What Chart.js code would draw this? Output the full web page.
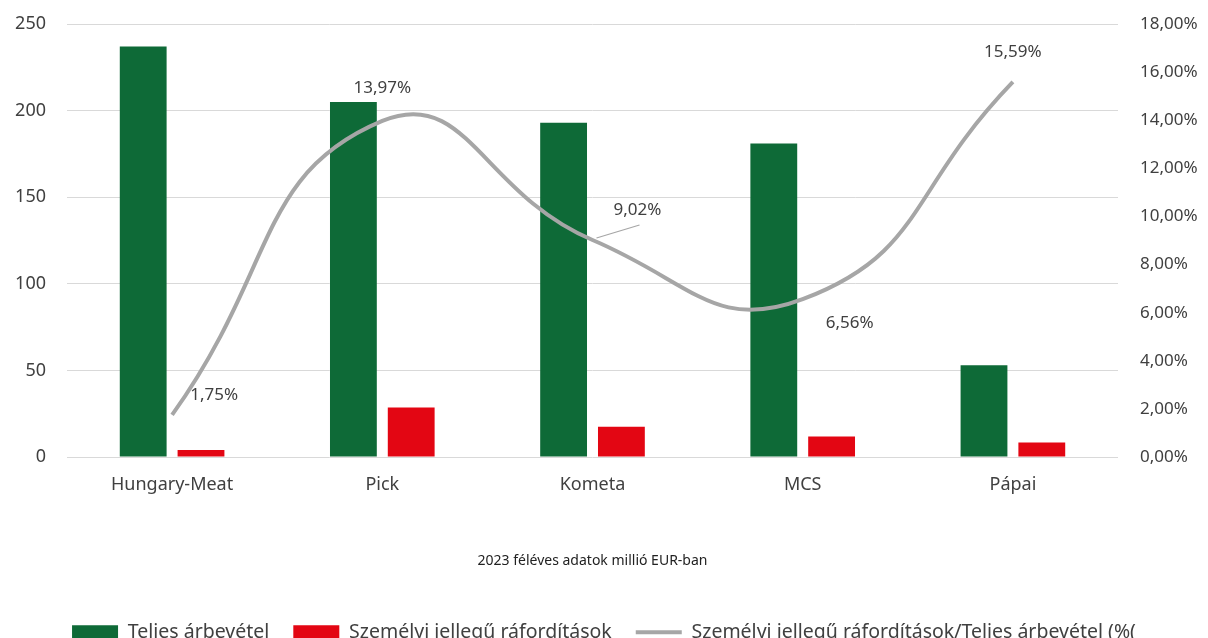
<!DOCTYPE html>
<html lang="hu">
<head>
<meta charset="utf-8">
<script src="https://cdn.jsdelivr.net/npm/chart.js@4.4.1/dist/chart.umd.min.js"></script>
<style>
  html, body { margin: 0; padding: 0; background: #fff; overflow: hidden; width: 1208px; height: 638px; }
  #wrap { position: relative; width: 1208px; height: 652px; }
</style>
</head>
<body>
<div id="wrap"><canvas id="chart"></canvas></div>
<script>
"use strict";
const companies = ["Hungary-Meat", "Pick", "Kometa", "MCS", "Pápai"];
const revenue = [237, 205, 193, 181, 53];
const staffCosts = [4.1, 28.6, 17.4, 11.9, 8.3];
const staffShare = [0.0175, 0.1397, 0.0902, 0.0656, 0.1559];
const shareLabels = ["1,75%", "13,97%", "9,02%", "6,56%", "15,59%"];

const GREEN = "#0e6a37";
const RED = "#e30613";
const GREY = "#a6a6a6";
const TEXT = "#404040";
const FONT = "'Noto Sans', 'DejaVu Sans', sans-serif";

// where each % label sits, relative to its point
const labelOffsets = [[42, -20], [0, -33], [45, -30], [47, 24], [0, -30]];

const shareLabelPlugin = {
  id: "shareLabels",
  afterDatasetsDraw(chart) {
    const meta = chart.getDatasetMeta(2);
    const ctx = chart.ctx;
    ctx.save();
    ctx.font = "17px " + FONT;
    ctx.fillStyle = TEXT;
    ctx.textAlign = "center";
    ctx.textBaseline = "middle";
    meta.data.forEach((pt, i) => {
      const lx = pt.x + labelOffsets[i][0];
      const ly = pt.y + labelOffsets[i][1];
      if (i === 2) {
        ctx.strokeStyle = GREY;
        ctx.lineWidth = 1.2;
        ctx.beginPath();
        ctx.moveTo(pt.x + 4, pt.y - 2);
        ctx.lineTo(lx + 2, ly + 15);
        ctx.stroke();
      }
      ctx.fillText(shareLabels[i], lx, ly);
    });
    ctx.restore();
  },
};

Chart.defaults.font.family = FONT;
Chart.defaults.color = TEXT;

const chartCxt = document.querySelector("#chart").getContext("2d");
new Chart(chartCxt, {
  type: "bar",
  data: {
    labels: companies,
    datasets: [
      {
        label: "Teljes árbevétel",
        data: revenue,
        backgroundColor: GREEN,
        yAxisID: "y",
        order: 2,
        categoryPercentage: 0.55,
        barPercentage: 0.81,
      },
      {
        label: "Személyi jellegű ráfordítások",
        data: staffCosts,
        backgroundColor: RED,
        yAxisID: "y",
        order: 2,
        categoryPercentage: 0.55,
        barPercentage: 0.81,
      },
      {
        type: "line",
        label: "Személyi jellegű ráfordítások/Teljes árbevétel (%(",
        data: staffShare,
        borderColor: GREY,
        backgroundColor: GREY,
        borderWidth: 4,
        tension: 0.5,
        pointRadius: 0,
        yAxisID: "y1",
        order: 1,
      },
    ],
  },
  options: {
    responsive: true,
    maintainAspectRatio: false,
    animation: false,
    layout: { padding: { top: 24, left: 0, right: 0, bottom: 0 } },
    plugins: {
      tooltip: { enabled: false },
      legend: {
        position: "bottom",
        labels: {
          usePointStyle: true,
          pointStyleWidth: 46,
          boxHeight: 14,
          padding: 24,
          font: { size: 19.5 },
          color: TEXT,
          sort: (a, b) => a.datasetIndex - b.datasetIndex,
          generateLabels(chart) {
            const items = Chart.defaults.plugins.legend.labels.generateLabels(chart);
            items.forEach((it) => {
              if (it.datasetIndex === 2) {
                it.pointStyle = "line";
                it.lineWidth = 4;
                it.strokeStyle = GREY;
              } else {
                it.pointStyle = "rect";
                it.lineWidth = 0;
              }
            });
            return items;
          },
        },
      },
    },
    scales: {
      x: {
        grid: { display: false, drawTicks: false },
        border: { display: false },
        ticks: { padding: 17, font: { size: 18 }, color: TEXT },
        title: {
          display: true,
          text: "2023 féléves adatok millió EUR-ban",
          font: { size: 14 },
          color: "#222",
          padding: { top: 0, bottom: 29 },
        },
        afterFit(s) {
          s.height = s.chart.height - s.chart.legend.height - 457;
        },
      },
      y: {
        position: "left",
        min: 0,
        max: 250,
        ticks: { stepSize: 50, padding: 12, font: { size: 18 }, color: TEXT },
        grid: { color: "#d9d9d9", lineWidth: 1, drawTicks: true, tickLength: 9, tickColor: "rgba(0,0,0,0)" },
        border: { display: false },
        afterFit(s) { s.width = 67; },
      },
      y1: {
        position: "right",
        min: 0,
        max: 0.18,
        ticks: {
          stepSize: 0.02,
          padding: 12,
          font: { size: 17 },
          color: TEXT,
          callback: (v) => (v * 100).toFixed(2).replace(".", ",") + "%",
        },
        grid: { drawOnChartArea: false, drawTicks: true, tickLength: 10, tickColor: "rgba(0,0,0,0)" },
        border: { display: false },
        afterFit(s) { s.width = 90; },
      },
    },
  },
  plugins: [shareLabelPlugin],
});
</script>
</body>
</html>
